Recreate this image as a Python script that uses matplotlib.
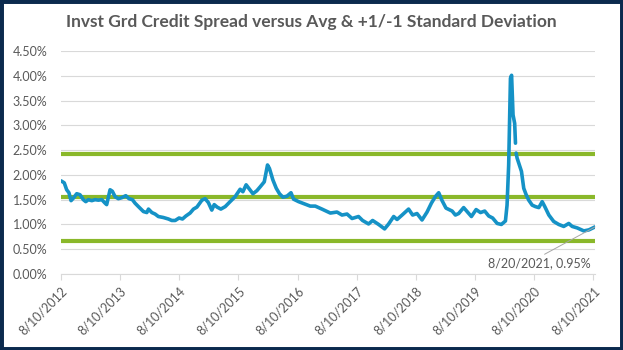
import matplotlib
matplotlib.use("Agg")
import matplotlib.pyplot as plt
import numpy as np
import pandas as pd
from matplotlib.patches import Rectangle
from matplotlib.ticker import FuncFormatter, MultipleLocator

# Investment grade credit spread (%); None marks a missing week
dates = [
    "2012-08-10", "2012-08-30", "2012-09-14", "2012-09-28", "2012-10-11", "2012-10-25",
    "2012-11-15", "2012-12-05", "2012-12-26", "2013-01-10", "2013-01-26", "2013-02-16",
    "2013-03-08", "2013-03-29", "2013-04-19", "2013-05-09", "2013-05-19", "2013-06-09",
    "2013-06-23", "2013-07-10", "2013-07-30", "2013-08-20", "2013-09-14", "2013-10-04",
    "2013-10-25", "2013-11-10", "2013-12-01", "2014-01-01", "2014-01-22", "2014-02-01",
    "2014-02-22", "2014-03-14", "2014-04-03", "2014-05-04", "2014-06-04", "2014-06-25",
    "2014-07-16", "2014-08-09", "2014-08-30", "2014-09-20", "2014-10-16", "2014-11-06",
    "2014-11-27", "2014-12-28", "2015-01-17", "2015-02-06", "2015-02-27", "2015-03-14",
    "2015-04-01", "2015-04-24", "2015-05-21", "2015-06-20", "2015-07-21", "2015-08-21",
    "2015-09-07", "2015-09-27", "2015-10-18", "2015-11-08", "2015-12-02", "2015-12-23",
    "2016-01-17", "2016-02-06", "2016-02-18", "2016-03-10", "2016-03-31", "2016-04-20",
    "2016-05-11", "2016-06-05", "2016-06-30", "2016-07-16", "2016-08-16", "2016-09-26",
    "2016-10-27", "2016-11-27", "2017-01-07", "2017-02-28", "2017-04-10", "2017-05-11",
    "2017-06-11", "2017-07-12", "2017-08-21", "2017-09-15", "2017-10-22", "2017-11-16",
    "2017-12-23", "2018-01-29", "2018-02-23", "2018-03-26", "2018-04-16", "2018-05-17",
    "2018-06-26", "2018-07-21", "2018-08-17", "2018-09-17", "2018-10-18", "2018-11-14",
    "2018-12-08", "2018-12-29", "2019-01-19", "2019-02-12", "2019-03-22", "2019-04-11",
    "2019-05-01", "2019-06-01", "2019-06-22", "2019-07-19", "2019-08-17", "2019-09-13",
    "2019-10-09", "2019-11-03", "2019-11-27", "2019-12-25", "2020-01-20", "2020-02-14",
    "2020-02-24", "2020-03-05", "2020-03-16", "2020-03-23", "2020-04-01", "2020-04-11",
    "2020-04-16", "2020-04-18", "2020-04-20", "2020-04-26", "2020-05-10", "2020-05-23",
    "2020-06-06", "2020-06-21", "2020-07-07", "2020-07-28", "2020-08-17", "2020-09-07",
    "2020-09-28", "2020-10-14", "2020-11-08", "2020-12-08", "2021-01-08", "2021-02-08",
    "2021-03-11", "2021-04-01", "2021-05-02", "2021-06-12", "2021-07-13", "2021-08-20",
]
spread = [
    1.88, 1.84, 1.70, 1.64, 1.48, 1.53,
    1.62, 1.60, 1.50, 1.46, 1.50, 1.48,
    1.50, 1.49, 1.50, 1.43, 1.40, 1.70,
    1.67, 1.56, 1.52, 1.54, 1.58, 1.52,
    1.50, 1.43, 1.36, 1.26, 1.24, 1.31,
    1.24, 1.21, 1.16, 1.14, 1.11, 1.08,
    1.08, 1.13, 1.11, 1.17, 1.23, 1.31,
    1.35, 1.49, 1.52, 1.44, 1.29, 1.40,
    1.35, 1.31, 1.36, 1.46, 1.56, 1.71,
    1.66, 1.80, 1.71, 1.62, 1.68, 1.76,
    1.86, 2.20, 2.13, 1.90, 1.73, 1.62,
    1.55, 1.57, 1.64, 1.51, 1.46, 1.41,
    1.37, 1.37, 1.31, 1.23, 1.25, 1.19,
    1.21, 1.12, 1.16, 1.08, 1.01, 1.08,
    1.00, 0.91, 1.01, 1.16, 1.10, 1.19,
    1.31, 1.19, 1.22, 1.09, 1.25, 1.43,
    1.56, 1.64, 1.48, 1.33, 1.27, 1.19,
    1.22, 1.34, 1.26, 1.16, 1.30, 1.24,
    1.27, 1.17, 1.13, 1.02, 1.00, 1.07,
    1.39, 2.20, 3.95, 4.01, 3.21, 3.04,
    2.64, None, 2.44, 2.34, 2.20, 2.07,
    1.73, 1.60, 1.49, 1.39, 1.36, 1.34,
    1.46, 1.36, 1.19, 1.06, 1.00, 0.96,
    1.02, 0.96, 0.93, 0.87, 0.89, 0.95,
]

avg = 1.545
std_dev = 0.875
bands = [avg + std_dev, avg, avg - std_dev]

tick_years = list(range(2012, 2022))
last_label = "8/20/2021, 0.95%"

BLUE = "#1592C6"
GREEN = "#8AB82A"
GRAY_TXT = "#595959"
GRID = "#D9D9D9"

plt.rcParams["font.family"] = ["Lato", "DejaVu Sans"]

fig = plt.figure(figsize=(6.23, 3.5), dpi=100)
fig.patch.set_facecolor("white")
ax = fig.add_axes([61 / 623, 1 - 274 / 350, 534 / 623, 223 / 350])

x = pd.to_datetime(dates)
y = np.array([np.nan if v is None else v for v in spread], dtype=float)

for b in bands:
    ax.axhline(b, color=GREEN, lw=3.0, zorder=2)
ax.plot(x, y, color=BLUE, lw=2.6, solid_joinstyle="round",
        solid_capstyle="round", zorder=3)

ax.set_ylim(0, 4.5)
ax.yaxis.set_major_locator(MultipleLocator(0.5))
ax.yaxis.set_major_formatter(FuncFormatter(lambda v, _: f"{v:.2f}%"))
ax.grid(axis="y", color=GRID, lw=0.8, zorder=0)
ax.set_axisbelow(True)

ax.set_xlim(pd.Timestamp("2012-08-10"), pd.Timestamp("2021-08-20"))
ticks = [pd.Timestamp(f"{yr}-08-10") for yr in tick_years]
ax.set_xticks(ticks)
ax.set_xticklabels([f"8/10/{yr}" for yr in tick_years], rotation=45,
                   ha="right", rotation_mode="anchor")

for s in ["top", "right", "left"]:
    ax.spines[s].set_visible(False)
ax.spines["bottom"].set_color(GRID)
ax.spines["bottom"].set_linewidth(0.8)
ax.tick_params(axis="y", length=0, pad=10, labelsize=9, labelcolor=GRAY_TXT)
ax.tick_params(axis="x", length=4, color=GRID, width=0.8, pad=4,
               labelsize=9, labelcolor=GRAY_TXT)

ax.annotate(last_label, xy=(x[-1], y[-1]), xytext=(-40, -26),
            textcoords="offset points", ha="center", va="center",
            fontsize=9, color=GRAY_TXT,
            arrowprops=dict(arrowstyle="-", color="#A6A6A6", lw=0.7,
                            relpos=(0.5, 1.0), shrinkA=0, shrinkB=0))

fig.text(0.5, 1 - 22 / 350,
         "Invst Grd Credit Spread versus Avg & +1/-1 Standard Deviation",
         ha="center", va="center", fontsize=12.5, fontweight="bold",
         color=GRAY_TXT)

# dark frame around the figure
fig.patches.append(Rectangle((0, 0), 1, 1, transform=fig.transFigure,
                             fill=False, edgecolor="#0B2A4E", lw=5))

fig.savefig("out.png", dpi=100)
